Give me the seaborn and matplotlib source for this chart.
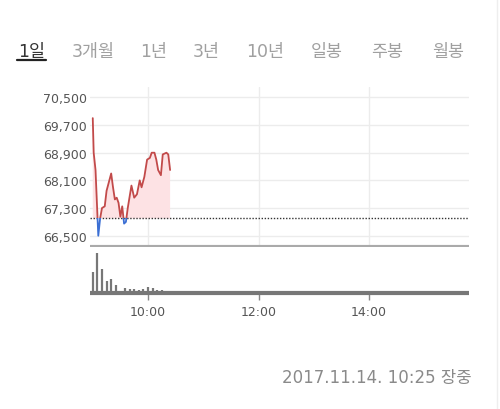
import numpy as np
import matplotlib
matplotlib.use("Agg")
import matplotlib.pyplot as plt
import seaborn as sns
from matplotlib.patches import Rectangle
from matplotlib.lines import Line2D

# data: minutes after 09:00 and price
minutes = [0, 1, 3, 6, 8, 10, 13, 15, 20, 22, 24, 26, 28, 30, 32, 34, 36, 38,
           42, 45, 48, 51, 53, 56, 59, 62, 64, 67, 69, 71, 74, 76, 80, 82, 84]
prices = [69900, 68900, 68400, 66500, 67000, 67300, 67350, 67800, 68300, 67900,
          67550, 67600, 67450, 67050, 67350, 66850, 66900, 67300, 67950, 67600,
          67700, 68100, 67900, 68200, 68700, 68750, 68900, 68900, 68700, 68400,
          68250, 68850, 68900, 68850, 68400]
prev_close = 67000

vol_minutes = [0, 5, 10, 15, 20, 25, 30, 35, 40, 45, 50, 55, 60, 65, 70, 75, 80]
volumes = [62, 120, 72, 35, 43, 25, 5, 15, 12, 12, 8, 12, 17, 15, 10, 8, 5]

price_ticks = [66500, 67300, 68100, 68900, 69700, 70500]
time_ticks = [60, 180, 300]
time_labels = ["10:00", "12:00", "14:00"]
tabs = ["1일", "3개월", "1년", "3년", "10년", "일봉", "주봉", "월봉"]
tab_x = [31.5, 93.5, 153.5, 206.5, 265, 327, 387.5, 448.5]
stamp = "2017.11.14. 10:25 장중"

sns.set_theme(style="white")
plt.rcParams["font.family"] = ["DejaVu Sans", "Noto Sans CJK KR"]

W, H = 500, 410
fig = plt.figure(figsize=(W / 100, H / 100), dpi=100)

def fx(px):
    return px / W

def fy(py):
    return 1 - py / H

# tabs
for i, (label, x) in enumerate(zip(tabs, tab_x)):
    fig.text(fx(x), fy(52), label, ha="center", va="center", fontsize=12.5,
             color="#333333" if i == 0 else "#a0a0a0")
fig.add_artist(Line2D([fx(17), fx(46)], [fy(61), fy(61)], color="#222222", lw=1.6))

# price panel
ax = fig.add_axes([fx(90), fy(248), fx(469 - 90), (248 - 88) / H])
t = np.array(minutes, dtype=float)
p = np.array(prices, dtype=float)
ax.fill_between(t, p, prev_close, where=p >= prev_close, interpolate=True,
                color="#fde2e4", lw=0, zorder=1)
ax.set_xlim(-3, 408.6)
ax.set_ylim(66174, 70800)
red = sns.lineplot(x=t, y=p, ax=ax, color="#c24a4a", lw=1.3, zorder=3).lines[-1]
red.set_clip_path(Rectangle((-10, prev_close), 500, 10000, transform=ax.transData))
blue = sns.lineplot(x=t, y=p, ax=ax, color="#3b6fd4", lw=1.3, zorder=3).lines[-1]
blue.set_clip_path(Rectangle((-10, 60000), 500, prev_close - 60000, transform=ax.transData))
ax.axhline(prev_close, color="#333333", lw=1, ls=(0, (1, 1.2)), zorder=2)
ax.set_yticks(price_ticks)
ax.set_yticklabels([f"{v:,}" for v in price_ticks])
ax.set_xticks(time_ticks)
ax.set_xticklabels([])
ax.grid(True, color="#ececec", lw=1)
ax.tick_params(axis="y", length=0, pad=2, labelsize=9, labelcolor="#555555")
ax.tick_params(axis="x", length=0)
for s in ax.spines.values():
    s.set_visible(False)
ax.spines["bottom"].set_visible(True)
ax.spines["bottom"].set_color("#aaaaaa")
ax.spines["bottom"].set_linewidth(3)
ax.spines["bottom"].set_capstyle("butt")

# volume panel
vx = fig.add_axes([fx(90), fy(294), fx(469 - 90), (294 - 248) / H])
vx.vlines(vol_minutes, 0, volumes, color="#777777", lw=1.6)
vx.set_xlim(-3, 408.6)
vx.set_ylim(0, 138)
vx.set_yticks([])
vx.set_xticks(time_ticks)
vx.set_xticklabels(time_labels, fontsize=9, color="#555555")
vx.tick_params(axis="x", length=5, width=1, color="#888888", pad=4, bottom=True)
for s in vx.spines.values():
    s.set_visible(False)
vx.spines["bottom"].set_visible(True)
vx.spines["bottom"].set_color("#777777")
vx.spines["bottom"].set_linewidth(3)
vx.spines["bottom"].set_capstyle("butt")

# time stamp and page border
fig.text(fx(472), fy(378), stamp, ha="right", va="center", fontsize=12, color="#8a8a8a")
fig.add_artist(Line2D([fx(497), fx(497)], [0, 1], color="#eeeeee", lw=1))

fig.savefig("out.png", dpi=100)
